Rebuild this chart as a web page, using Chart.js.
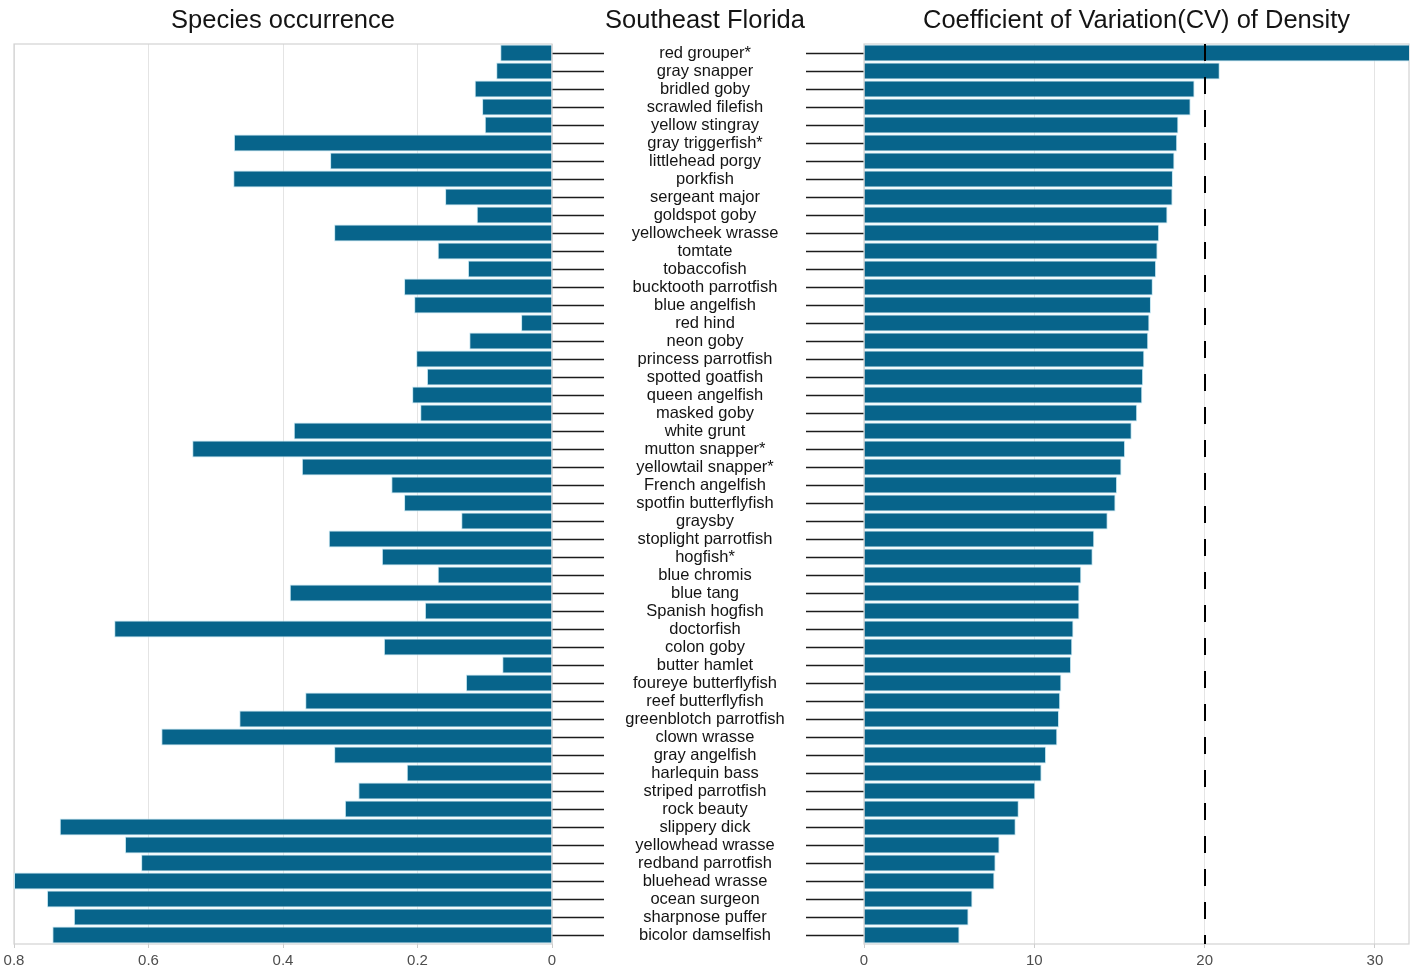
<!DOCTYPE html>
<html>
<head>
<meta charset="utf-8">
<title>Southeast Florida – occurrence and CV of density</title>
<script src="https://cdn.jsdelivr.net/npm/chart.js@4.4.1/dist/chart.umd.min.js"></script>
<style>
  html, body { margin: 0; padding: 0; background: #ffffff; }
  #wrap { position: relative; width: 1416px; height: 969px; overflow: hidden; }
  #wrap canvas { position: absolute; top: 0; }
  #occ { left: 0; }
  #cv { left: 806px; }
</style>
</head>
<body>
<div id="wrap">
  <canvas id="occ" width="806" height="969"></canvas>
  <canvas id="cv" width="610" height="969"></canvas>
</div>
<script>
// ---- data -------------------------------------------------------------
const region = 'Southeast Florida';
const occurrenceTitle = 'Species occurrence';
const cvTitle = 'Coefficient of Variation(CV) of Density';

const species = [
  'red grouper*', 'gray snapper', 'bridled goby', 'scrawled filefish', 'yellow stingray',
  'gray triggerfish*', 'littlehead porgy', 'porkfish', 'sergeant major', 'goldspot goby',
  'yellowcheek wrasse', 'tomtate', 'tobaccofish', 'bucktooth parrotfish', 'blue angelfish',
  'red hind', 'neon goby', 'princess parrotfish', 'spotted goatfish', 'queen angelfish',
  'masked goby', 'white grunt', 'mutton snapper*', 'yellowtail snapper*', 'French angelfish',
  'spotfin butterflyfish', 'graysby', 'stoplight parrotfish', 'hogfish*', 'blue chromis',
  'blue tang', 'Spanish hogfish', 'doctorfish', 'colon goby', 'butter hamlet',
  'foureye butterflyfish', 'reef butterflyfish', 'greenblotch parrotfish', 'clown wrasse', 'gray angelfish',
  'harlequin bass', 'striped parrotfish', 'rock beauty', 'slippery dick', 'yellowhead wrasse',
  'redband parrotfish', 'bluehead wrasse', 'ocean surgeon', 'sharpnose puffer', 'bicolor damselfish'
];

const occurrence = [
  0.077, 0.083, 0.115, 0.104, 0.100,
  0.473, 0.330, 0.474, 0.159, 0.112,
  0.324, 0.170, 0.125, 0.220, 0.205,
  0.046, 0.123, 0.202, 0.186, 0.208,
  0.196, 0.384, 0.535, 0.372, 0.239,
  0.220, 0.135, 0.332, 0.253, 0.170,
  0.390, 0.189, 0.651, 0.250, 0.074,
  0.128, 0.367, 0.465, 0.581, 0.324,
  0.216, 0.288, 0.308, 0.732, 0.635,
  0.611, 0.800, 0.751, 0.711, 0.743
];

const cvDensity = [
  33.0, 20.89, 19.41, 19.18, 18.46,
  18.39, 18.23, 18.14, 18.12, 17.82,
  17.33, 17.24, 17.15, 16.96, 16.85,
  16.76, 16.69, 16.46, 16.39, 16.34,
  16.04, 15.72, 15.33, 15.12, 14.86,
  14.77, 14.31, 13.52, 13.43, 12.76,
  12.65, 12.65, 12.30, 12.23, 12.16,
  11.59, 11.52, 11.45, 11.35, 10.69,
  10.43, 10.06, 9.09, 8.91, 7.96,
  7.73, 7.66, 6.37, 6.14, 5.61
];

const occurrenceTicks = [0, 0.2, 0.4, 0.6, 0.8];
const cvTicks = [0, 10, 20, 30];
const cvThreshold = 20;

// ---- styling ----------------------------------------------------------
const FAMILY = "'Liberation Sans', Arial, Helvetica, sans-serif";
const TITLE_SIZE = 25.5;
const LABEL_SIZE = 16.5;
const TICK_SIZE = 15;
const BAR_FILL = '#07648b';
const BAR_EDGE = '#c4e6f1';
const GRID = '#e4e4e4';
const FRAME = '#d2d2d2';
const INK = '#141414';

const PAD_TOP = 3;
const TITLE_PAD = { top: 3, bottom: 44 - 3 - 3 - TITLE_SIZE * 1.2 };
const TITLE_Y = PAD_TOP + TITLE_PAD.top + TITLE_SIZE * 0.6;
const X_AXIS_H = 25;

// species column between the two panels
const LEFT_TICK = 52;      // tick marks leaving the occurrence panel
const LEFT_AXIS_W = 254;   // space from occurrence panel edge to the CV canvas
const LABEL_OFFSET = 153;  // label centre, measured from the occurrence panel edge
const RIGHT_TICK = 58;     // tick marks entering the CV panel

const measure = document.createElement('canvas').getContext('2d');
measure.font = `${LABEL_SIZE}px ${FAMILY}`;
const widestLabel = Math.max(...species.map(s => measure.measureText(s).width));
const labelPadding = LABEL_OFFSET - LEFT_TICK - widestLabel / 2;

Chart.defaults.font.family = FAMILY;
Chart.defaults.color = INK;

// light border round each panel
const panelFrame = {
  id: 'panelFrame',
  beforeDatasetsDraw(chart) {
    const { ctx, chartArea: a } = chart;
    ctx.save();
    ctx.strokeStyle = FRAME;
    ctx.lineWidth = 1.2;
    ctx.strokeRect(a.left, a.top, a.right - a.left, a.bottom - a.top);
    ctx.restore();
  }
};

// heading above the species column
const columnHeading = {
  id: 'columnHeading',
  afterDraw(chart) {
    const ctx = chart.ctx;
    ctx.save();
    ctx.font = `${TITLE_SIZE}px ${FAMILY}`;
    ctx.fillStyle = INK;
    ctx.textAlign = 'center';
    ctx.textBaseline = 'middle';
    ctx.fillText(region, chart.scales.y.left + LABEL_OFFSET, TITLE_Y);
    ctx.restore();
  }
};

// dashed reference line at CV = 20
const thresholdLine = {
  id: 'thresholdLine',
  afterDatasetsDraw(chart) {
    const { ctx, chartArea: a, scales } = chart;
    const x = Math.round(scales.x.getPixelForValue(cvThreshold));
    ctx.save();
    ctx.strokeStyle = '#000000';
    ctx.lineWidth = 2;
    ctx.setLineDash([17, 16]);
    ctx.beginPath();
    ctx.moveTo(x, a.top);
    ctx.lineTo(x, a.bottom);
    ctx.stroke();
    ctx.restore();
  }
};

function barDataset(values) {
  return {
    data: values,
    backgroundColor: BAR_FILL,
    borderColor: BAR_EDGE,
    borderWidth: 1,
    barPercentage: 0.94,
    categoryPercentage: 1.0
  };
}

function valueAxis(ticks, extra) {
  return Object.assign({
    type: 'linear',
    position: 'bottom',
    afterBuildTicks: scale => { scale.ticks = ticks.map(v => ({ value: v })); },
    afterFit: scale => { scale.height = X_AXIS_H; },
    ticks: {
      font: { size: TICK_SIZE },
      color: '#4d4d4d',
      padding: 4,
      maxRotation: 0,
      callback: v => String(v)
    },
    grid: { color: GRID, lineWidth: 1, drawTicks: true, tickLength: 4, tickColor: '#cccccc' },
    border: { display: false }
  }, extra);
}

function titleOpts(text) {
  return {
    display: true,
    text: text,
    fullSize: false,
    color: INK,
    font: { size: TITLE_SIZE, weight: 'normal' },
    padding: TITLE_PAD
  };
}

// ---- species occurrence (axis runs right to left) ----------------------
new Chart(document.getElementById('occ'), {
  type: 'bar',
  data: { labels: species, datasets: [barDataset(occurrence)] },
  options: {
    indexAxis: 'y',
    responsive: false,
    animation: false,
    layout: { padding: { top: PAD_TOP, left: 14, right: 0, bottom: 0 } },
    plugins: {
      legend: { display: false },
      tooltip: { enabled: false },
      title: titleOpts(occurrenceTitle)
    },
    scales: {
      x: valueAxis(occurrenceTicks, { min: 0, max: 0.8, reverse: true }),
      y: {
        type: 'category',
        position: 'right',
        afterFit: scale => {
          scale.width = LEFT_AXIS_W;
          // the wide label gap is horizontal only; keep it out of the vertical layout
          scale.paddingTop = 0;
          scale.paddingBottom = 0;
        },
        ticks: {
          font: { size: LABEL_SIZE },
          color: INK,
          crossAlign: 'center',
          padding: labelPadding,
          autoSkip: false
        },
        grid: {
          display: true,
          offset: false,
          drawOnChartArea: false,
          drawTicks: true,
          tickLength: LEFT_TICK,
          tickColor: '#1c1c1c',
          tickWidth: 1.6
        },
        border: { display: false }
      }
    }
  },
  plugins: [panelFrame, columnHeading]
});

// ---- coefficient of variation of density ------------------------------
new Chart(document.getElementById('cv'), {
  type: 'bar',
  data: { labels: species, datasets: [barDataset(cvDensity)] },
  options: {
    indexAxis: 'y',
    responsive: false,
    animation: false,
    layout: { padding: { top: PAD_TOP, left: 0, right: 7, bottom: 0 } },
    plugins: {
      legend: { display: false },
      tooltip: { enabled: false },
      title: titleOpts(cvTitle)
    },
    scales: {
      x: valueAxis(cvTicks, { min: 0, max: 32 }),
      y: {
        type: 'category',
        position: 'left',
        afterFit: scale => { scale.width = RIGHT_TICK; },
        ticks: { display: false, autoSkip: false },
        grid: {
          display: true,
          offset: false,
          drawOnChartArea: false,
          drawTicks: true,
          tickLength: RIGHT_TICK,
          tickColor: '#1c1c1c',
          tickWidth: 1.6
        },
        border: { display: false }
      }
    }
  },
  plugins: [panelFrame, thresholdLine]
});
</script>
</body>
</html>
